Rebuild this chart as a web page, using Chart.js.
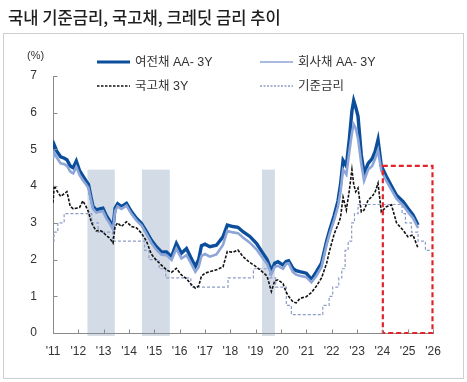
<!DOCTYPE html>
<html><head><meta charset="utf-8">
<script src="https://cdn.jsdelivr.net/npm/chart.js@4.4.0/dist/chart.umd.min.js"></script>
<style>html,body{margin:0;padding:0;background:#fff;}canvas{display:block;}</style>
</head><body>
<canvas id="c" width="467" height="382"></canvas>
<script>
const titleText = '국내 기준금리, 국고채, 크레딧 금리 추이';
const unitLabel = '(%)';
const seriesNames = ['여전채 AA- 3Y', '회사채 AA- 3Y', '국고채 3Y', '기준금리'];
const yearTicks = [2011,2012,2013,2014,2015,2016,2017,2018,2019,2020,2021,2022,2023,2024,2025,2026];

const bondDates = [2011.00,2011.05,2011.15,2011.30,2011.45,2011.55,2011.68,2011.80,2011.92,2012.05,2012.18,2012.30,2012.40,2012.50,2012.58,2012.71,2012.84,2012.97,2013.10,2013.24,2013.37,2013.45,2013.55,2013.70,2013.90,2014.10,2014.30,2014.49,2014.69,2014.88,2015.08,2015.28,2015.48,2015.68,2015.87,2016.07,2016.27,2016.46,2016.62,2016.75,2016.86,2017.00,2017.19,2017.45,2017.71,2017.88,2018.10,2018.30,2018.50,2018.77,2019.03,2019.29,2019.45,2019.62,2019.75,2019.88,2020.08,2020.20,2020.30,2020.47,2020.60,2020.74,2021.00,2021.20,2021.40,2021.60,2021.80,2021.92,2022.10,2022.25,2022.35,2022.45,2022.58,2022.70,2022.80,2022.87,2022.95,2023.04,2023.17,2023.28,2023.44,2023.60,2023.72,2023.83,2023.96,2024.16,2024.36,2024.56,2024.82,2025.01,2025.21,2025.41];

const cardBond = [4.95,5.12,4.95,4.80,4.76,4.72,4.55,4.50,4.68,4.42,4.28,4.15,4.05,3.70,3.45,3.35,3.38,3.40,3.20,3.05,2.88,3.40,3.52,3.44,3.53,3.30,3.12,2.99,2.76,2.53,2.35,2.21,2.21,2.08,2.44,2.17,2.30,2.03,1.81,2.00,2.38,2.42,2.35,2.39,2.62,2.94,2.90,2.88,2.76,2.63,2.44,2.17,2.00,1.70,1.90,1.94,1.85,1.95,1.97,1.76,1.70,1.67,1.63,1.46,1.67,1.90,2.50,2.80,3.20,3.60,4.05,4.70,4.55,5.30,6.05,6.33,6.15,5.90,4.85,4.35,4.62,4.75,4.95,5.26,4.55,4.26,4.00,3.75,3.58,3.40,3.22,2.94];

const corpBond = [4.75,4.92,4.78,4.62,4.60,4.55,4.40,4.35,4.52,4.30,4.16,4.05,3.95,3.62,3.38,3.28,3.30,3.32,3.13,2.98,2.82,3.32,3.45,3.38,3.47,3.24,3.06,2.93,2.70,2.46,2.27,2.13,2.12,1.99,2.30,2.03,2.12,1.88,1.67,1.80,2.10,2.15,2.08,2.14,2.40,2.78,2.74,2.72,2.60,2.46,2.28,2.03,1.88,1.60,1.80,1.83,1.75,1.88,1.90,1.66,1.59,1.56,1.52,1.38,1.56,1.80,2.40,2.70,3.08,3.45,3.85,4.45,4.32,4.95,5.45,5.68,5.58,5.30,4.60,4.15,4.45,4.55,4.75,4.98,4.42,4.14,3.90,3.66,3.48,3.30,3.13,2.86];

const ktb3y = [3.55,4.02,3.88,3.72,3.80,3.85,3.45,3.38,3.40,3.42,3.60,3.45,3.30,3.05,2.92,2.78,2.80,2.75,2.66,2.58,2.45,2.90,3.00,2.90,3.03,2.90,2.86,2.72,2.50,2.15,1.98,1.85,1.72,1.65,1.76,1.58,1.48,1.32,1.22,1.28,1.55,1.63,1.67,1.72,1.80,2.22,2.20,2.26,2.08,1.92,1.80,1.65,1.55,1.13,1.42,1.45,1.35,1.12,1.00,0.85,0.82,0.94,0.99,1.10,1.28,1.50,1.90,2.25,2.70,2.95,3.15,3.70,3.35,3.90,4.45,4.05,3.85,3.95,3.30,3.35,3.62,3.72,3.85,4.08,3.30,3.44,3.49,3.00,2.80,2.62,2.67,2.31];

const baseDates = [2011.00,2011.04,2011.19,2011.44,2012.53,2012.78,2013.35,2014.62,2014.79,2015.19,2015.45,2016.44,2017.91,2018.91,2019.55,2019.79,2020.21,2020.41,2021.65,2021.90,2022.04,2022.28,2022.40,2022.53,2022.65,2022.79,2022.90,2023.04,2024.78,2024.91,2025.15,2025.41,2025.70,2025.87];
const baseRate = [2.50,2.75,3.00,3.25,3.00,2.75,2.50,2.25,2.00,1.75,1.50,1.25,1.50,1.75,1.50,1.25,0.75,0.50,0.75,1.00,1.25,1.50,1.75,2.25,2.50,3.00,3.25,3.50,3.25,3.00,2.75,2.50,2.25,2.25];

const shadeStarts = [2012.36, 2014.51, 2019.25];
const shadeEnds = [2013.44, 2015.61, 2019.76];
const shadeTop = 4.45;
const boxStart = 2024.02, boxEnd = 2025.98, boxTop = 4.55;

const colors = { card: '#0b4e9c', corp: '#8ea5d8', ktb: '#111111', base: '#8d9cc6' };
const pts = (xs, ys) => xs.map((x, i) => ({ x: x, y: ys[i] }));

const decor = {
  id: 'decor',
  beforeDraw(chart) {
    const ctx = chart.ctx, xs = chart.scales.x, ys = chart.scales.y;
    ctx.save();
    ctx.fillStyle = '#fff';
    ctx.fillRect(0, 0, chart.width, chart.height);
    ctx.strokeStyle = '#cfcfcf';
    ctx.lineWidth = 1;
    ctx.strokeRect(3.5, 33.5, 460, 345);
    ctx.fillStyle = '#d3dce6';
    for (let i = 0; i < shadeStarts.length; i++) {
      const x0 = xs.getPixelForValue(shadeStarts[i]);
      const x1 = xs.getPixelForValue(shadeEnds[i]);
      const y0 = ys.getPixelForValue(shadeTop);
      const y1 = ys.getPixelForValue(-0.08);
      ctx.fillRect(x0, y0, x1 - x0, y1 - y0);
    }
    ctx.restore();
  },
  afterDatasetsDraw(chart) {
    const ctx = chart.ctx, xs = chart.scales.x, ys = chart.scales.y;
    ctx.save();
    ctx.strokeStyle = '#e1252b';
    ctx.lineWidth = 2.2;
    ctx.setLineDash([5, 3]);
    const x0 = xs.getPixelForValue(boxStart), x1 = xs.getPixelForValue(boxEnd);
    const y0 = ys.getPixelForValue(boxTop), y1 = ys.getPixelForValue(0);
    ctx.strokeRect(x0, y0, x1 - x0, y1 - y0);
    ctx.restore();
  },
  afterDraw(chart) {
    const ctx = chart.ctx, xs = chart.scales.x, ys = chart.scales.y;
    ctx.save();
    ctx.strokeStyle = '#8a8a8a';
    ctx.lineWidth = 1;
    const yb = Math.round(ys.getPixelForValue(0)) + 0.5;
    const xl = Math.round(xs.getPixelForValue(2011)) + 0.5;
    yearTicks.forEach(v => {
      const x = Math.round(xs.getPixelForValue(v)) + 0.5;
      ctx.beginPath(); ctx.moveTo(x, yb); ctx.lineTo(x, yb - 4); ctx.stroke();
    });
    for (let v = 0; v <= 7; v++) {
      const y = Math.round(ys.getPixelForValue(v)) + 0.5;
      ctx.beginPath(); ctx.moveTo(xl, y); ctx.lineTo(xl + 4, y); ctx.stroke();
    }
    ctx.fillStyle = '#1e1e1e';
    ctx.font = '500 16.6px "Noto Sans CJK KR", sans-serif';
    ctx.textBaseline = 'middle';
    ctx.textAlign = 'left';
    ctx.fillText(titleText, 8, 18);
    ctx.fillStyle = '#333';
    ctx.font = '11px "Liberation Sans", Arial, sans-serif';
    ctx.fillText(unitLabel, 27, 56);
    const items = [
      { name: seriesNames[0], x: 97, y: 62, color: colors.card, w: 3, dash: [] },
      { name: seriesNames[1], x: 260, y: 62, color: colors.corp, w: 1.3, dash: [] },
      { name: seriesNames[2], x: 97, y: 86, color: colors.ktb, w: 1.3, dash: [2.5, 1.5] },
      { name: seriesNames[3], x: 260, y: 86, color: colors.base, w: 1.3, dash: [2, 1.5] }
    ];
    ctx.font = '12.5px "Liberation Sans", "Noto Sans CJK KR", sans-serif';
    items.forEach(it => {
      ctx.strokeStyle = it.color;
      ctx.lineWidth = it.w;
      ctx.setLineDash(it.dash);
      ctx.beginPath(); ctx.moveTo(it.x, it.y); ctx.lineTo(it.x + 33, it.y); ctx.stroke();
      ctx.setLineDash([]);
      ctx.fillStyle = '#333';
      ctx.fillText(it.name, it.x + 38, it.y + 0.5);
    });
    ctx.restore();
  }
};

new Chart(document.getElementById('c'), {
  type: 'line',
  data: {
    datasets: [
      { label: seriesNames[2], data: pts(bondDates, ktb3y), borderColor: colors.ktb, borderWidth: 1.6, borderDash: [3, 1.5], pointRadius: 0, tension: 0, order: 0 },
      { label: seriesNames[1], data: pts(bondDates, corpBond), borderColor: colors.corp, borderWidth: 2.6, pointRadius: 0, tension: 0, order: 1 },
      { label: seriesNames[0], data: pts(bondDates, cardBond), borderColor: colors.card, borderWidth: 3.4, pointRadius: 0, tension: 0, order: 2 },
      { label: seriesNames[3], data: pts(baseDates, baseRate), borderColor: colors.base, borderWidth: 1.2, borderDash: [3, 2], pointRadius: 0, stepped: true, order: 3 }
    ]
  },
  options: {
    responsive: false,
    animation: false,
    devicePixelRatio: 1,
    layout: { padding: { left: 0, top: 76, right: 34, bottom: 0 } },
    plugins: { legend: { display: false }, title: { display: false }, tooltip: { enabled: false } },
    scales: {
      x: {
        type: 'linear', min: 2011, max: 2026,
        afterFit: s => { s.height = 49; },
        afterBuildTicks: s => { s.ticks = yearTicks.map(v => ({ value: v })); },
        ticks: { autoSkip: false, maxRotation: 0, padding: 11, color: '#333',
          font: { family: '"Liberation Sans", Arial, sans-serif', size: 12 },
          callback: v => "'" + String(v).slice(2) },
        grid: { display: false, drawTicks: false },
        border: { display: true, color: '#8a8a8a', width: 1 }
      },
      y: {
        min: 0, max: 7,
        afterFit: s => { s.width = 53; },
        ticks: { stepSize: 1, padding: 16, color: '#333',
          font: { family: '"Liberation Sans", Arial, sans-serif', size: 12 } },
        grid: { display: false, drawTicks: false },
        border: { display: true, color: '#8a8a8a', width: 1 }
      }
    }
  },
  plugins: [decor]
});
</script>
</body></html>
